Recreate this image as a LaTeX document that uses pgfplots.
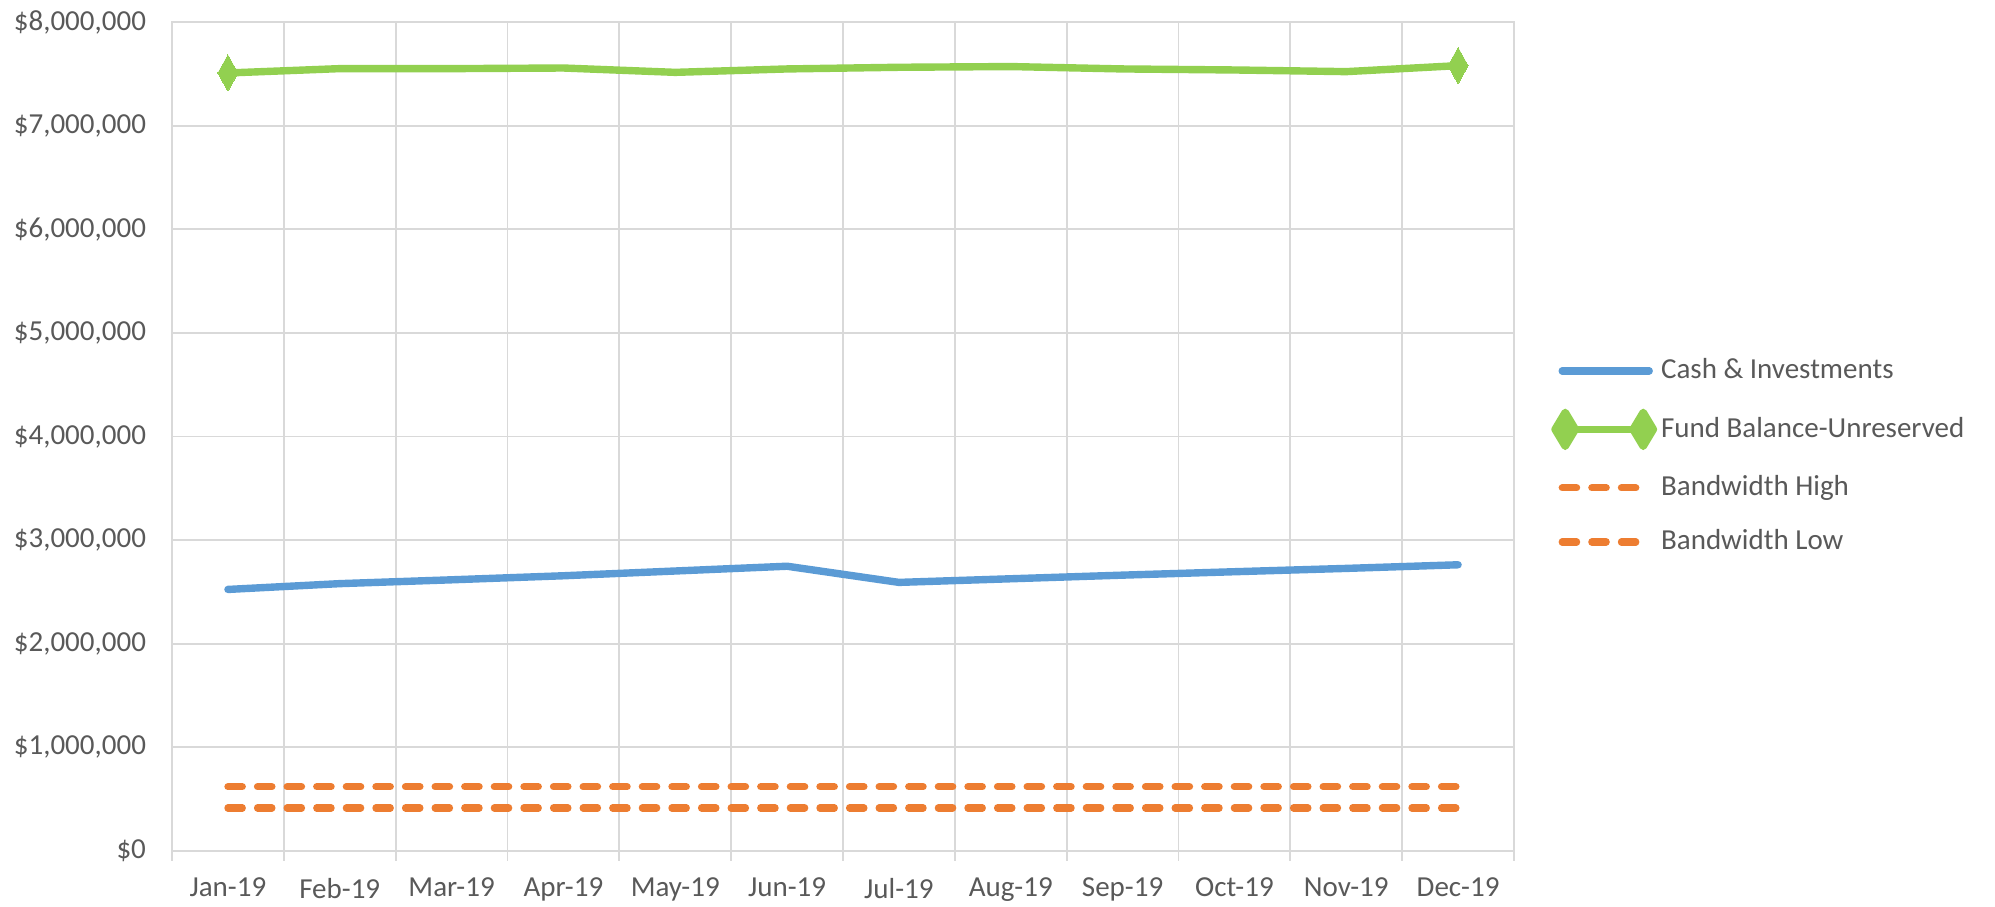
\documentclass[border=0pt]{standalone}
\usepackage{pgfplots}
\pgfplotsset{compat=1.18}
\usepackage{fontspec}
\setmainfont{Carlito}
\definecolor{cblue}{HTML}{5B9BD5}
\definecolor{cgreen}{HTML}{92D050}
\definecolor{corange}{HTML}{ED7D31}
\definecolor{cgrid}{HTML}{D9D9D9}
\definecolor{ctext}{HTML}{595959}
\begin{document}
\fontsize{14.5}{17}\selectfont
\begin{tikzpicture}
\begin{axis}[
  scale only axis, width=671pt, height=414.5pt,
  xmin=-0.5, xmax=11.5, ymin=0, ymax=8000000,
  xtick={0,...,11},
  xticklabels={Jan-19,Feb-19,Mar-19,Apr-19,May-19,Jun-19,Jul-19,Aug-19,Sep-19,Oct-19,Nov-19,Dec-19},
  minor xtick={-0.5,0.5,...,11.5},
  ytick={0,1000000,2000000,3000000,4000000,5000000,6000000,7000000,8000000},
  yticklabels={{\$0},{\$1,000,000},{\$2,000,000},{\$3,000,000},{\$4,000,000},{\$5,000,000},{\$6,000,000},{\$7,000,000},{\$8,000,000}},
  scaled y ticks=false,
  xminorgrids=true, ymajorgrids=true, xmajorgrids=false,
  grid style={cgrid, line width=0.9pt},
  minor grid style={cgrid, line width=0.9pt},
  axis line style={cgrid, line width=0.9pt},
  major tick length=0pt, minor tick length=5pt,
  tick align=outside, xtick pos=bottom, ytick pos=left,
  minor tick style={cgrid, line width=0.9pt},
  tick label style={font=\fontsize{14.5}{17}\selectfont, text=ctext},
  xticklabel style={inner sep=0pt, yshift=-13.3pt},
  yticklabel style={xshift=-8pt},
  legend style={draw=none, fill=none, at={(1.0275,0.476)}, anchor=west, inner sep=0pt,
    row sep=10.8pt, font=\fontsize{14.5}{17}\selectfont, text=ctext,
    /tikz/every even column/.append style={column sep=4pt}},
  legend cell align=left,
  legend image code/.code={\draw[#1] (0pt,0pt) -- (43.5pt,0pt);},
]
\coordinate (A) at (rel axis cs:0,0);
\coordinate (B) at (rel axis cs:1,1);
\addplot[cblue, line width=3.7pt, line cap=round, line join=round] coordinates {
(0,2524000) (1,2580000) (2,2617000) (3,2656000) (4,2702000) (5,2748000)
(6,2592000) (7,2627000) (8,2662000) (9,2695000) (10,2727000) (11,2762000)};
\addlegendentry{Cash \& Investments}
\addplot[cgreen, line width=3.7pt, line cap=round, line join=round,
  legend image code/.code={%
    \draw[cgreen, line width=3.7pt] (0pt,0pt) -- (43.5pt,0pt);
    \fill[cgreen] (1.5pt,8.5pt) -- (6.6pt,0pt) -- (1.5pt,-8.5pt) -- (-3.6pt,0pt) -- cycle;
    \fill[cgreen] (40.5pt,8.5pt) -- (45.6pt,0pt) -- (40.5pt,-8.5pt) -- (35.4pt,0pt) -- cycle;
  }] coordinates {
(0,7508000) (1,7550000) (2,7550000) (3,7556000) (4,7514000) (5,7547000)
(6,7563000) (7,7570000) (8,7547000) (9,7537000) (10,7521000) (11,7579000)};
\addlegendentry{Fund Balance-Unreserved}
\addplot[corange, line width=3.6pt, line cap=round, dash pattern=on 7.2pt off 7.6pt] coordinates {
(0,620000) (1,620000) (2,620000) (3,620000) (4,620000) (5,620000)
(6,620000) (7,620000) (8,620000) (9,620000) (10,620000) (11,620000)};
\addlegendentry{Bandwidth High}
\addplot[corange, line width=3.6pt, line cap=round, dash pattern=on 7.2pt off 7.6pt] coordinates {
(0,415000) (1,415000) (2,415000) (3,415000) (4,415000) (5,415000)
(6,415000) (7,415000) (8,415000) (9,415000) (10,415000) (11,415000)};
\addlegendentry{Bandwidth Low}
\addplot[cgreen, forget plot, only marks, mark=diamond*, mark size=9pt,
  mark options={fill=cgreen, draw=cgreen, line width=0pt, xscale=0.74}] coordinates {
(0,7508000) (11,7579000)};
\end{axis}
\path ([shift={(-86pt,-28pt)}]A) rectangle ([shift={(240.5pt,11pt)}]B);
\end{tikzpicture}
\end{document}
